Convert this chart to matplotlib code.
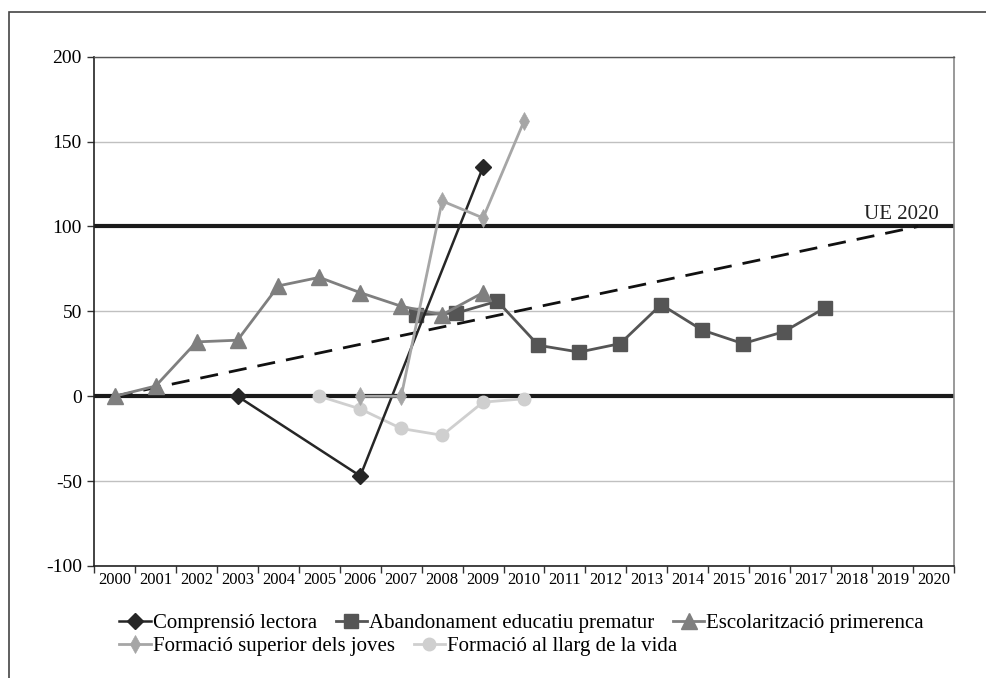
import matplotlib
matplotlib.use('Agg')
import matplotlib.pyplot as plt
from matplotlib.patches import Rectangle

# ---------------- data ----------------
years = list(range(2000, 2021))

comp_years = [2003, 2006, 2009]
comp_vals = [0, -47, 135]

aband_years = list(range(2007, 2018))
aband_vals = [48, 49, 56, 30, 26, 31, 54, 39, 31, 38, 52]

escol_years = list(range(2000, 2010))
escol_vals = [0, 6, 32, 33, 65, 70, 61, 53, 48, 61]

sup_years = [2006, 2007, 2008, 2009, 2010]
sup_vals = [0, 0, 115, 105, 162]

vida_years = [2005, 2006, 2007, 2008, 2009, 2010]
vida_vals = [0, -7.5, -19, -23, -3.5, -1.5]

target_years = [2000, 2019.63]
target_vals = [0, 100]

ref_levels = [0, 100]
y_ticks = [-100, -50, 0, 50, 100, 150, 200]

labels = ["Comprensió lectora", "Abandonament educatiu prematur",
          "Escolarització primerenca", "Formació superior dels joves",
          "Formació al llarg de la vida"]

# ---------------- style ----------------
plt.rcParams['font.family'] = ['Liberation Serif', 'DejaVu Serif']
BASE = years[0]
ABAND_SHIFT = 0.35  # horizontal offset of this series in the original chart


def xpos(ys, shift=0.0):
    return [y - BASE + shift for y in ys]


fig = plt.figure(figsize=(9.87, 6.78), dpi=100)
ax = fig.add_axes([0.0955, 0.1652, 0.8708, 0.7512])

n = len(years)
ax.set_xlim(-0.5, n - 0.5)
ax.set_ylim(-100, 200)

# grid
for v in y_ticks:
    ax.axhline(v, color='#c0c0c0', lw=1.0, zorder=1)
for v in ref_levels:
    ax.axhline(v, color='#1a1a1a', lw=3.0, zorder=2)

# target dashed line
ax.plot(xpos(target_years), target_vals, color='#111111', lw=2.0,
        dashes=(6.5, 4), zorder=3)

ms_lw = 2.0
h1, = ax.plot(xpos(comp_years), comp_vals, color='#262626', lw=1.8,
              marker='D', ms=8, mfc='#262626', mec='#262626', zorder=5)
h2, = ax.plot(xpos(aband_years, ABAND_SHIFT), aband_vals, color='#555555', lw=ms_lw,
              marker='s', ms=10, mfc='#555555', mec='#555555', zorder=4)
h3, = ax.plot(xpos(escol_years), escol_vals, color='#7f7f7f', lw=ms_lw,
              marker='^', ms=11, mfc='#7f7f7f', mec='#7f7f7f', zorder=4)
h4, = ax.plot(xpos(sup_years), sup_vals, color='#a6a6a6', lw=ms_lw,
              marker='d', ms=9, mfc='#a6a6a6', mec='#a6a6a6', markeredgewidth=0.5,
              zorder=5)
h5, = ax.plot(xpos(vida_years), vida_vals, color='#cfcfcf', lw=ms_lw,
              marker='o', ms=9, mfc='#cfcfcf', mec='#cfcfcf', zorder=4)

ax.text(20.14, 101.5, "UE 2020", ha='right', va='bottom', fontsize=15,
        color='#222222', zorder=6)

# axes / ticks
ax.set_yticks(y_ticks)
ax.set_yticklabels([str(v) for v in y_ticks], fontsize=14)
ax.tick_params(axis='y', direction='out', length=5, width=1, pad=4, color='#333333')

ax.set_xticks([i - 0.5 for i in range(n + 1)])
ax.set_xticklabels([])
ax.set_xticks(list(range(n)), minor=True)
ax.set_xticklabels([str(y) for y in years], minor=True, fontsize=12)
ax.tick_params(axis='x', which='major', direction='out', length=5, width=1,
               color='#333333')
ax.tick_params(axis='x', which='minor', length=0, pad=4)

for s in ['left', 'bottom']:
    ax.spines[s].set_color('#222222')
    ax.spines[s].set_linewidth(1.2)
ax.spines['top'].set_color('#555555')
ax.spines['top'].set_linewidth(1.0)
ax.spines['right'].set_color('#888888')
ax.spines['right'].set_linewidth(1.2)

# legend: two rows
leg_kw = dict(frameon=False, fontsize=15, handlelength=1.5, handletextpad=0.1,
              columnspacing=0.9, borderpad=0, borderaxespad=0)
fig.legend([h1, h2, h3], labels[:3], ncol=3, loc='center left',
           bbox_to_anchor=(0.121, 1 - 623 / 678), **leg_kw)
fig.legend([h4, h5], labels[3:], ncol=2, loc='center left',
           bbox_to_anchor=(0.121, 1 - 646 / 678), **leg_kw)

# outer frame (partly cut off on right/bottom)
fig.patches.append(Rectangle((9 / 987, -0.2), 1.2, 1.2 - 12 / 678,
                             transform=fig.transFigure, fill=False,
                             edgecolor='#444444', lw=1.2))

fig.savefig('out.png', dpi=100)
